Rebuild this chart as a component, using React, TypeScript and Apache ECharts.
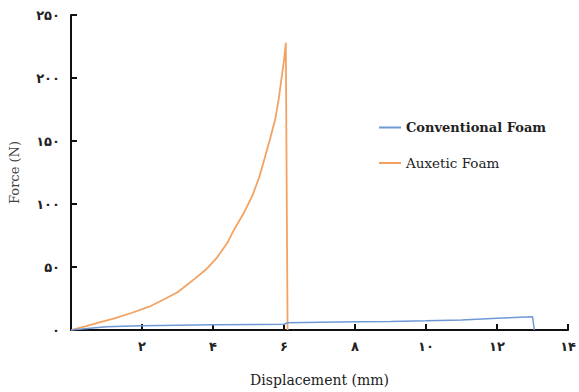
import React, { useEffect, useRef } from "react";
import * as echarts from "echarts";

// Auxetic foam: [displacement mm, force N]
const auxeticX = [0, 0.4, 0.8, 1.2, 1.7, 2.2, 2.6, 3.0, 3.5, 3.8, 4.1, 4.4, 4.6, 4.85, 5.1, 5.3, 5.45, 5.6, 5.75, 5.85, 5.92, 6.0, 6.05, 6.1];
const auxeticY = [0, 2.8, 6, 9, 13.5, 18.5, 24, 30, 41, 48, 57, 69, 80, 92, 106, 121, 136, 151, 167, 183, 198, 214, 228, 0];

// Conventional foam
const conventionalX = [0, 1, 2, 4, 6, 6.1, 8, 9, 10, 11, 12, 13, 13.05];
const conventionalY = [0, 2.5, 3.4, 4.2, 4.6, 5.8, 6.6, 6.8, 7.3, 8, 9.3, 10.5, 0];

const seriesNames = ["Conventional Foam", "Auxetic Foam"];
const xTicks = [0, 2, 4, 6, 8, 10, 12, 14];
const yTicks = [0, 50, 100, 150, 200, 250];

const persianDigits = ["۰", "۱", "۲", "۳", "۴", "۵", "۶", "۷", "۸", "۹"];
const toPersian = (v: number) =>
  String(v)
    .split("")
    .map((c) => (c >= "0" && c <= "9" ? persianDigits[Number(c)] : c))
    .join("");

export default function App() {
  const ref = useRef<HTMLDivElement>(null);
  useEffect(() => {
    if (!ref.current) return;
    const chart = echarts.init(ref.current, undefined, { renderer: "svg" });
    const serif = "'DejaVu Serif', 'Liberation Serif', serif";
    chart.setOption({
      animation: false,
      backgroundColor: "#ffffff",
      grid: { left: 70, right: 7, top: 15, bottom: 54, containLabel: false },
      legend: {
        orient: "vertical",
        left: 374,
        top: 116,
        icon: "rect",
        itemWidth: 22,
        itemHeight: 2,
        itemGap: 22,
        data: [
          {
            name: seriesNames[0],
            textStyle: { fontFamily: serif, fontWeight: "bold", fontSize: 13, color: "#222" },
          },
          {
            name: seriesNames[1],
            textStyle: { fontFamily: serif, fontWeight: "normal", fontSize: 13.5, color: "#222" },
          },
        ],
      },
      xAxis: {
        type: "value",
        min: xTicks[0],
        max: xTicks[xTicks.length - 1],
        interval: 2,
        name: "Displacement (mm)",
        nameLocation: "middle",
        nameGap: 43,
        nameTextStyle: { fontFamily: serif, fontSize: 14, color: "#222" },
        axisLine: { show: true, lineStyle: { color: "#111", width: 2 } },
        axisTick: { show: true, inside: true, length: 6, lineStyle: { color: "#111", width: 2 } },
        splitLine: { show: false },
        axisLabel: {
          margin: 10,
          fontFamily: "'DejaVu Sans', sans-serif",
          fontSize: 13,
          fontWeight: "bold",
          color: "#222",
          formatter: (v: number) => (v === 0 ? "" : toPersian(v)),
        },
      },
      yAxis: {
        type: "value",
        min: yTicks[0],
        max: yTicks[yTicks.length - 1],
        interval: 50,
        name: "Force (N)",
        nameLocation: "middle",
        nameGap: 50,
        nameTextStyle: { fontFamily: serif, fontSize: 13, color: "#444" },
        axisLine: { show: true, lineStyle: { color: "#111", width: 2 } },
        axisTick: { show: true, inside: true, length: 6, lineStyle: { color: "#111", width: 2 } },
        splitLine: { show: false },
        axisLabel: {
          margin: 11,
          fontFamily: "'DejaVu Sans', sans-serif",
          fontSize: 13,
          fontWeight: "bold",
          color: "#222",
          formatter: (v: number) => toPersian(v),
        },
      },
      series: [
        {
          name: seriesNames[0],
          type: "line",
          symbol: "none",
          color: "#6f98d4",
          lineStyle: { width: 1.5, color: "#6f98d4" },
          data: conventionalX.map((x, i) => [x, conventionalY[i]]),
          z: 3,
        },
        {
          name: seriesNames[1],
          type: "line",
          symbol: "none",
          color: "#f4a262",
          lineStyle: { width: 1.8, color: "#f4a262" },
          data: auxeticX.map((x, i) => [x, auxeticY[i]]),
          z: 2,
        },
      ],
    });
    return () => chart.dispose();
  }, []);
  return <div ref={ref} style={{ width: 579, height: 392, position: "absolute", left: 0, top: 0 }} />;
}
